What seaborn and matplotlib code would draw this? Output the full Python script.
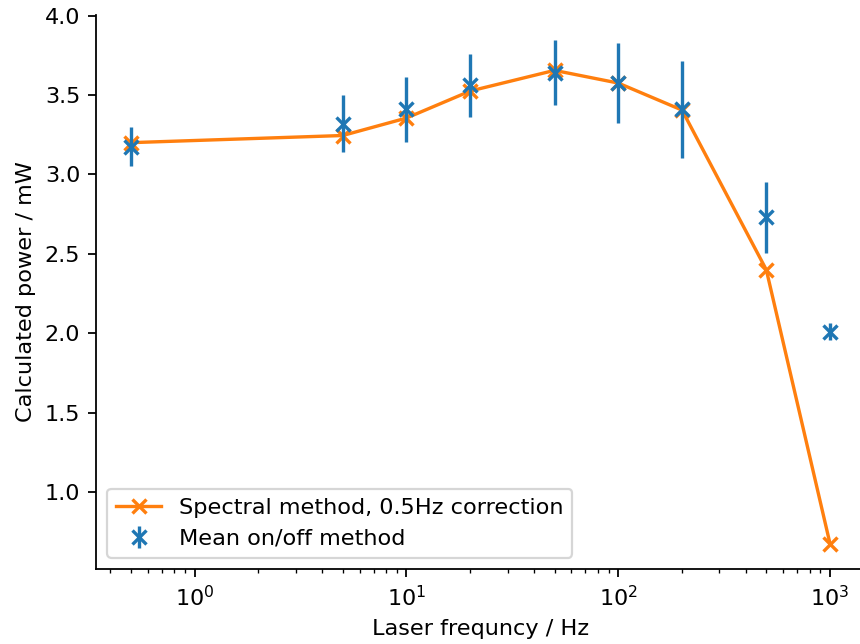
import matplotlib
matplotlib.use("Agg")
import matplotlib.pyplot as plt
import seaborn as sns
import pandas as pd

freq = [0.5, 5, 10, 20, 50, 100, 200, 500, 1000]
spectral = [3.20, 3.245, 3.355, 3.525, 3.655, 3.575, 3.405, 2.40, 0.675]
mean_onoff = [3.175, 3.32, 3.41, 3.56, 3.64, 3.575, 3.41, 2.73, 2.01]
mean_err = [0.125, 0.18, 0.205, 0.20, 0.205, 0.25, 0.305, 0.225, 0.055]

df = pd.DataFrame({"freq": freq, "spectral": spectral})

DPI = 161.25
fig = plt.figure(figsize=(860 / DPI, 644 / DPI), dpi=DPI)
ax = fig.add_axes([96 / 860, (644 - 569) / 644, 769 / 860, (569 - 15) / 644])

sns.lineplot(data=df, x="freq", y="spectral", ax=ax, color="#ff7f0e",
             marker="x", markersize=6, linewidth=1.5, markeredgewidth=1.5,
             markeredgecolor="#ff7f0e",
             label="Spectral method, 0.5Hz correction")
ax.errorbar(freq, mean_onoff, yerr=mean_err, fmt="x", color="#1f77b4",
            markersize=6, markeredgewidth=1.5, elinewidth=1.5,
            label="Mean on/off method")
ax.set_xscale("log")
ax.set_xlabel("Laser frequncy / Hz")
ax.set_ylabel("Calculated power / mW")
ax.set_yticks([1.0, 1.5, 2.0, 2.5, 3.0, 3.5, 4.0])
ax.spines["top"].set_visible(False)
ax.spines["right"].set_visible(False)
ax.legend(loc="lower left")
fig.savefig("out.png", dpi=DPI)
